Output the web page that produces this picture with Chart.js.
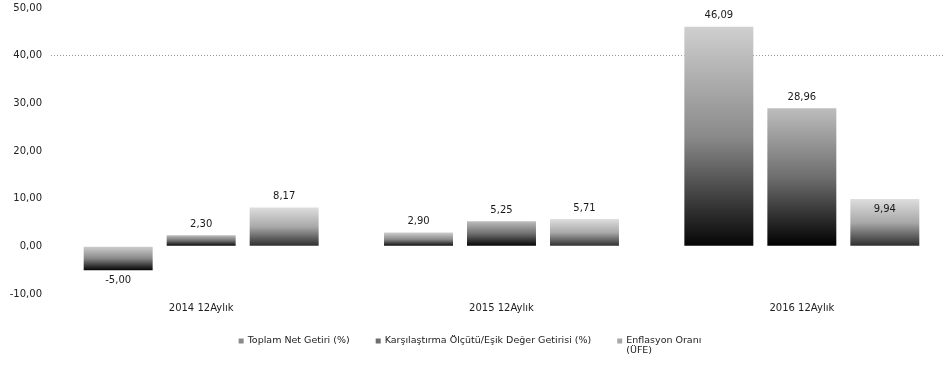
<!DOCTYPE html>
<html>
<head>
<meta charset="utf-8">
<script src="https://cdn.jsdelivr.net/npm/chart.js@4"></script>
<style>
  html, body { margin: 0; padding: 0; background: #fff; overflow: hidden; }
  #wrap { width: 960px; height: 367px; }
</style>
</head>
<body>
<div id="wrap"><canvas id="c" width="960" height="367"></canvas></div>
<script>
// Periods and series
const categories = ['2014 12Aylık', '2015 12Aylık', '2016 12Aylık'];
const seriesNames = [
  ['Toplam Net Getiri (%)'],
  ['Karşılaştırma Ölçütü/Eşik Değer Getirisi (%)'],
  ['Enflasyon Oranı', '(ÜFE)']
];
const toplamNetGetiri = [-5.00, 2.90, 46.09];
const karsilastirmaGetirisi = [2.30, 5.25, 28.96];
const enflasyonOrani = [8.17, 5.71, 9.94];
const yTicks = [-10, 0, 10, 20, 30, 40, 50];

const FONT = 'DejaVu Sans';
const fmt = v => v.toFixed(2).replace('.', ',');

// Per-series shading: light top fading to near black at the base
const shades = [
  ['#cfcfcf', '#8a8a8a', '#050505'],
  ['#bdbdbd', '#6e6e6e', '#000000'],
  ['#dedede', '#a8a8a8', '#2a2a2a']
];

function barFill(ctx) {
  const chart = ctx.chart;
  const y = chart.scales.y;
  if (!chart.chartArea || !y || ctx.raw === undefined) return shades[ctx.datasetIndex][1];
  const v = ctx.raw;
  const top = y.getPixelForValue(Math.max(v, 0));
  const bot = y.getPixelForValue(Math.min(v, 0));
  const s = shades[ctx.datasetIndex];
  const g = chart.ctx.createLinearGradient(0, top, 0, bot + 0.01);
  g.addColorStop(0, s[0]);
  g.addColorStop(0.5, s[1]);
  g.addColorStop(1, s[2]);
  return g;
}

// Value labels: above positive bars, below negative ones; the last
// inflation value sits just inside the top of its bar
const valueLabels = {
  id: 'valueLabels',
  afterDatasetsDraw(chart) {
    const c = chart.ctx;
    c.save();
    c.font = '10px "' + FONT + '"';
    c.fillStyle = '#1a1a1a';
    c.textAlign = 'center';
    c.textBaseline = 'middle';
    chart.data.datasets.forEach((ds, di) => {
      chart.getDatasetMeta(di).data.forEach((el, i) => {
        const v = ds.data[i];
        let ty;
        if (ds.labelInside && ds.labelInside(i)) ty = el.y + 10;
        else if (v >= 0) ty = el.y - 11;
        else ty = el.y + 10;
        c.fillText(fmt(v), el.x, ty);
      });
    });
    c.restore();
  }
};

// Legend row under the axis labels, with a wrapped last entry
const bottomLegend = {
  id: 'bottomLegend',
  afterDraw(chart) {
    const c = chart.ctx;
    c.save();
    c.font = '9.5px "' + FONT + '"';
    c.textBaseline = 'middle';
    c.textAlign = 'left';
    const box = 5, boxGap = 4, itemGap = 26;
    const widths = seriesNames.map(lines => box + boxGap + Math.max(...lines.map(l => c.measureText(l).width)));
    const total = widths.reduce((a, b) => a + b, 0) + itemGap * (widths.length - 1);
    let x = 470 - total / 2;
    const y0 = 341, lh = 10;
    seriesNames.forEach((lines, i) => {
      c.fillStyle = shades[i][1];
      c.fillRect(x, y0 - box / 2, box, box);
      c.fillStyle = '#222';
      lines.forEach((l, k) => c.fillText(l, x + box + boxGap, y0 + k * lh));
      x += widths[i] + itemGap;
    });
    c.restore();
  }
};

const datasets = [toplamNetGetiri, karsilastirmaGetirisi, enflasyonOrani].map((d, i) => ({
  label: seriesNames[i].join(' '),
  data: d,
  backgroundColor: barFill,
  borderWidth: 0,
  categoryPercentage: 0.829,
  barPercentage: 0.831,
  labelInside: i === 2 ? (idx => idx === 2) : null
}));

new Chart(document.getElementById('c'), {
  type: 'bar',
  data: { labels: categories, datasets },
  options: {
    responsive: false,
    devicePixelRatio: 1,
    animation: false,
    layout: { padding: { top: 8, right: 8, bottom: 0, left: 0 } },
    plugins: { legend: { display: false }, tooltip: { enabled: false } },
    scales: {
      x: {
        grid: { display: false, drawTicks: false },
        border: { display: false },
        ticks: { font: { family: FONT, size: 10 }, color: '#222', padding: 8, maxRotation: 0 },
        afterFit: s => { s.height = 73; }
      },
      y: {
        min: -10, max: 50,
        afterBuildTicks: s => { s.ticks = yTicks.map(v => ({ value: v })); },
        grid: {
          drawTicks: true,
          tickLength: 9,
          tickColor: 'rgba(0,0,0,0)',
          color: ctx => (ctx.tick && ctx.tick.value === 40) ? '#9a9a9a' : 'rgba(0,0,0,0)',
          lineWidth: 1
        },
        border: { display: false, dash: [1, 2] },
        ticks: {
          font: { family: FONT, size: 10 }, color: '#222', padding: 0,
          callback: v => fmt(v)
        },
        afterFit: s => { s.width = 51; }
      }
    }
  },
  plugins: [valueLabels, bottomLegend]
});
</script>
</body>
</html>
